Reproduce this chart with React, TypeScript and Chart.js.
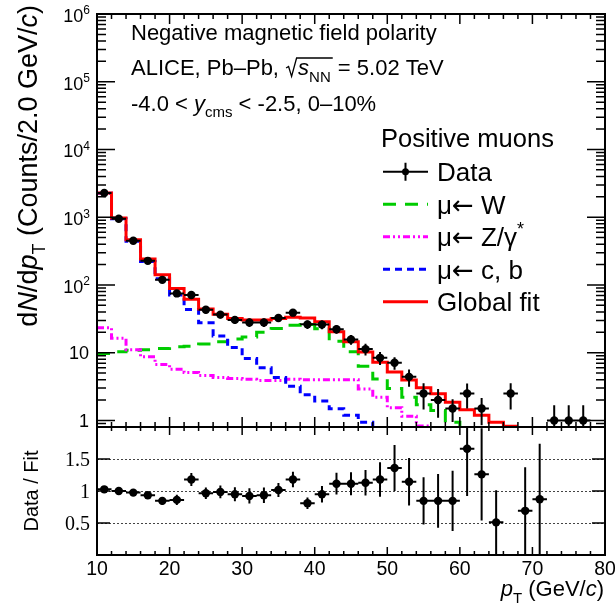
import React, { useEffect, useRef } from "react";
import { Chart, registerables } from "chart.js";

Chart.register(...registerables);

const SANS = '"Liberation Sans", Arial, Helvetica, sans-serif';
const SERIF = '"Liberation Serif", "Times New Roman", serif';
const ARROW_FONT = '"DejaVu Sans", "Liberation Sans", sans-serif';

// pT binning in GeV/c: 2 GeV/c wide bins from 10 to 80
const binCenters = [11, 13, 15, 17, 19, 21, 23, 25, 27, 29, 31, 33, 35, 37, 39, 41, 43, 45, 47, 49, 51, 53, 55, 57, 59, 61, 63, 65, 67, 69, 71, 73, 75, 77, 79];
const binHalfWidth = 1;

// measured counts per bin (null: nothing drawn in the upper panel)
const dataCounts = [2280, 950, 450, 227, 119, 75, 71, 43, 36.5, 30.5, 28, 28, 32.5, 39, 26.2, 26, 22.2, 15.7, 11.3, 8.4, 7.1, 4.4, 2.5, 2.0, 1.5, 2.5, 1.5, null, 2.5, null, null, 1, 1, 1, null];
const dataErrors = [45, 28, 19, 13, 9, 7, 7, 5, 4.5, 4, 4, 4, 4, 4.5, 3.8, 3.8, 3.2, 2.6, 2.2, 1.8, 1.5, 1.25, 1.05, 0.9, 0.55, 1.0, 0.65, null, 1.05, null, null, 0.67, 0.67, 0.67, null];

// fit templates, one value per bin starting at the first bin
const templW = [9.7, 10.3, 10.9, 11.1, 11.5, 12.2, 12.5, 13.4, 14.5, 15.9, 17.1, 20.1, 22.8, 25.5, 26, 22.5, 14.8, 10.3, 6.3, 4.1, 2.95, 2.2, 1.7, 1.4, 0.94, 0.75];
const templZ = [23.3, 16.3, 11.1, 8.7, 6.7, 5.7, 5.1, 4.6, 4.3, 4.15, 4.05, 3.9, 3.9, 4.05, 4.0, 4.0, 4.0, 4.0, 2.9, 2.2, 1.54, 1.15, 0.83, 0.6];
const templCB = [2250, 950, 443, 222, 124, 71, 43.6, 27.6, 17.6, 11.9, 8.2, 6.0, 4.3, 3.19, 2.4, 1.93, 1.49, 1.19, 0.94, 0.75];
const globalFit = [2283, 977, 465, 242, 142, 89, 61.5, 44, 36.8, 32.1, 30.3, 30.3, 32.1, 33.3, 32.5, 28.6, 20.3, 14.5, 10.2, 7.2, 5.2, 3.95, 3.05, 2.48, 1.85, 1.44, 1.19, 0.94, 0.82];

// data / fit ratio per bin
const ratioValues = [1.026, 1.0, 0.975, 0.933, 0.846, 0.861, 1.18, 0.964, 0.985, 0.949, 0.923, 0.933, 1.015, 1.18, 0.81, 0.949, 1.114, 1.114, 1.13, 1.18, 1.36, 1.145, 0.846, 0.846, 0.846, 1.66, 1.26, 0.51, null, 0.69, 0.87, null, null, null, null];
const ratioErrors = [0.02, 0.03, 0.04, 0.05, 0.06, 0.08, 0.1, 0.09, 0.1, 0.11, 0.12, 0.12, 0.11, 0.12, 0.09, 0.13, 0.17, 0.18, 0.2, 0.27, 0.36, 0.37, 0.37, 0.42, 0.47, 0.74, 0.72, 0.5, null, 0.68, 0.87, null, null, null, null];

// axes
const xRange = [10, 80];
const xTickValues = [10, 20, 30, 40, 50, 60, 70, 80];
const xTickLabels = ["10", "20", "30", "40", "50", "60", "70", "80"];
const countRange = [0.8, 1e6];
const countDecades = [0, 1, 2, 3, 4, 5, 6];
const ratioRange = [0, 2];
const ratioTicks = [0.5, 1, 1.5];
const ratioTickLabels = ["0.5", "1", "1.5"];

const CW = 615;
const CH = 609;
const PLOT_L = 97;
const PLOT_R = 605;
const UP_TOP = 14;
const SPLIT = 427;
const LOW_BOTTOM = 555;

const STYLES = {
  W: { color: "#00cc00", dash: [13, 9] },
  Z: { color: "#ff00ff", dash: [7, 3, 2, 3, 2, 3] },
  CB: { color: "#0000ff", dash: [7, 5] },
  FIT: { color: "#ff0000", dash: [] as number[] },
};

type Run = { t: string; it?: boolean; sub?: boolean; sup?: boolean; fam?: string };

function runFont(r: Run, size: number, family = SANS) {
  const s = r.sub || r.sup ? Math.round(size * 0.68) : size;
  return `${r.it ? "italic " : ""}${s}px ${r.fam ?? family}`;
}

function measureRuns(ctx: CanvasRenderingContext2D, runs: Run[], size: number, family = SANS) {
  let w = 0;
  for (const r of runs) {
    ctx.font = runFont(r, size, family);
    w += ctx.measureText(r.t).width;
  }
  return w;
}

function drawRuns(
  ctx: CanvasRenderingContext2D,
  x: number,
  y: number,
  runs: Run[],
  size: number,
  align: "left" | "center" | "right" = "left",
  family = SANS
) {
  const w = measureRuns(ctx, runs, size, family);
  let cx = align === "left" ? x : align === "center" ? x - w / 2 : x - w;
  ctx.textAlign = "left";
  ctx.textBaseline = "alphabetic";
  ctx.fillStyle = "#000";
  for (const r of runs) {
    ctx.font = runFont(r, size, family);
    const dy = r.sub ? size * 0.3 : r.sup ? -size * 0.42 : 0;
    ctx.fillText(r.t, cx, y + dy);
    cx += ctx.measureText(r.t).width;
  }
  return cx;
}

function histSteps(values: number[]) {
  const pts = values.map((v, i) => ({ x: binCenters[i] - binHalfWidth, y: v }));
  pts.push({ x: binCenters[values.length - 1] + binHalfWidth, y: values[values.length - 1] });
  return pts;
}

function pointsOf(values: (number | null)[]) {
  const pts: { x: number; y: number }[] = [];
  values.forEach((v, i) => {
    if (v != null) pts.push({ x: binCenters[i], y: v });
  });
  return pts;
}

function drawErrorBars(chart: any, values: (number | null)[], errors: (number | null)[]) {
  const { ctx, chartArea: a, scales } = chart;
  const x = scales.x;
  const y = scales.y;
  const isLog = y.type === "logarithmic";
  ctx.save();
  ctx.beginPath();
  ctx.rect(a.left, a.top, a.right - a.left, a.bottom - a.top);
  ctx.clip();
  ctx.strokeStyle = "#000";
  ctx.lineWidth = 2;
  ctx.setLineDash([]);
  ctx.beginPath();
  values.forEach((v, i) => {
    if (v == null) return;
    const e = errors[i] ?? 0;
    const cx = x.getPixelForValue(binCenters[i]);
    const cy = y.getPixelForValue(v);
    const yHi = y.getPixelForValue(v + e);
    const lo = v - e;
    const yLo = isLog && lo <= 0 ? a.bottom + 5 : y.getPixelForValue(lo);
    ctx.moveTo(x.getPixelForValue(binCenters[i] - binHalfWidth), cy);
    ctx.lineTo(x.getPixelForValue(binCenters[i] + binHalfWidth), cy);
    ctx.moveTo(cx, yHi);
    ctx.lineTo(cx, yLo);
  });
  ctx.stroke();
  ctx.restore();
}

function drawXTicks(chart: any, topLen: [number, number], bottomLen: [number, number]) {
  const { ctx, chartArea: a, scales } = chart;
  const x = scales.x;
  ctx.beginPath();
  for (let v = xRange[0]; v <= xRange[1]; v += 2) {
    const major = v % 10 === 0;
    const px = x.getPixelForValue(v);
    const bl = major ? bottomLen[0] : bottomLen[1];
    const tl = major ? topLen[0] : topLen[1];
    ctx.moveTo(px, a.bottom);
    ctx.lineTo(px, a.bottom - bl);
    ctx.moveTo(px, a.top);
    ctx.lineTo(px, a.top + tl);
  }
  ctx.stroke();
}

function drawFrame(chart: any) {
  const { ctx, chartArea: a } = chart;
  ctx.strokeStyle = "#000";
  ctx.lineWidth = 2;
  ctx.setLineDash([]);
  ctx.strokeRect(a.left, a.top, a.right - a.left, a.bottom - a.top);
}

const ARROW: Run = { t: "\u2190", fam: ARROW_FONT };

const legendEntries: { runs: Run[]; style?: { color: string; dash: number[] } }[] = [
  { runs: [{ t: "Data" }] },
  { runs: [{ t: "\u03bc" }, ARROW, { t: " W" }], style: STYLES.W },
  { runs: [{ t: "\u03bc" }, ARROW, { t: " Z/\u03b3" }, { t: "*", sup: true }], style: STYLES.Z },
  { runs: [{ t: "\u03bc" }, ARROW, { t: " c, b" }], style: STYLES.CB },
  { runs: [{ t: "Global fit" }], style: STYLES.FIT },
];

const upperDecor = {
  id: "upperDecor",
  afterDatasetsDraw(chart: any) {
    drawErrorBars(chart, dataCounts, dataErrors);
  },
  afterDraw(chart: any) {
    const { ctx, chartArea: a, scales } = chart;
    const y = scales.y;
    ctx.save();
    drawFrame(chart);
    ctx.lineWidth = 1.5;
    drawXTicks(chart, [10, 5], [10, 5]);

    // logarithmic ticks on both vertical sides
    ctx.beginPath();
    for (let d = -1; d <= 6; d++) {
      for (let k = 1; k <= 9; k++) {
        const v = k * Math.pow(10, d);
        if (v < countRange[0] - 1e-9 || v > countRange[1] + 1e-9) continue;
        const py = y.getPixelForValue(v);
        const len = k === 1 ? 18 : 9;
        ctx.moveTo(a.left, py);
        ctx.lineTo(a.left + len, py);
        ctx.moveTo(a.right, py);
        ctx.lineTo(a.right - len, py);
      }
    }
    ctx.stroke();

    // decade labels
    for (const d of countDecades) {
      const py = y.getPixelForValue(Math.pow(10, d));
      if (d === 0) drawRuns(ctx, 89, py + 6.5, [{ t: "1" }], 18, "right");
      else if (d === 1) drawRuns(ctx, 89, py + 6.5, [{ t: "10" }], 18, "right");
      else drawRuns(ctx, 90, py + 8, [{ t: "10" }, { t: String(d), sup: true }], 18, "right");
    }

    // vertical axis title
    ctx.save();
    ctx.translate(37, 5);
    ctx.rotate(-Math.PI / 2);
    drawRuns(
      ctx,
      0,
      0,
      [
        { t: "d" },
        { t: "N", it: true },
        { t: "/d" },
        { t: "p", it: true },
        { t: "T", sub: true },
        { t: " (Counts/2.0 GeV/" },
        { t: "c", it: true },
        { t: ")" },
      ],
      27,
      "right"
    );
    ctx.restore();

    // annotation block
    const tx = 131;
    const fs = 22;
    drawRuns(ctx, tx, 39.5, [{ t: "Negative magnetic field polarity" }], fs);
    const b2 = 75;
    let cx = drawRuns(ctx, tx, b2, [{ t: "ALICE, Pb\u2013Pb, " }], fs);
    const rx = cx + 1;
    cx = drawRuns(ctx, rx + 12, b2, [{ t: "s", it: true }, { t: "NN", sub: true }], fs);
    ctx.strokeStyle = "#000";
    ctx.lineWidth = 1.3;
    ctx.beginPath();
    ctx.moveTo(rx, b2 - 7);
    ctx.lineTo(rx + 2.5, b2 - 8.5);
    ctx.lineTo(rx + 5.5, b2 + 1.5);
    ctx.lineTo(rx + 10.5, b2 - 17);
    ctx.lineTo(cx + 2, b2 - 17);
    ctx.stroke();
    drawRuns(ctx, cx + 1, b2, [{ t: " = 5.02 TeV" }], fs);
    drawRuns(
      ctx,
      tx,
      110.5,
      [{ t: "-4.0 < " }, { t: "y", it: true }, { t: "cms", sub: true }, { t: " < -2.5, 0\u201310%" }],
      fs
    );

    // legend
    drawRuns(ctx, 381, 146.5, [{ t: "Positive muons" }], 25.5);
    legendEntries.forEach((e, i) => {
      const ly = 171.7 + 32.5 * i;
      ctx.save();
      if (e.style) {
        ctx.strokeStyle = e.style.color;
        ctx.setLineDash(e.style.dash);
        ctx.lineWidth = 3;
        ctx.beginPath();
        ctx.moveTo(383, ly);
        ctx.lineTo(428, ly);
        ctx.stroke();
      } else {
        ctx.strokeStyle = "#000";
        ctx.lineWidth = 2;
        ctx.beginPath();
        ctx.moveTo(383, ly);
        ctx.lineTo(428, ly);
        ctx.moveTo(405.5, ly - 9);
        ctx.lineTo(405.5, ly + 9);
        ctx.stroke();
        ctx.fillStyle = "#000";
        ctx.beginPath();
        ctx.arc(405.5, ly, 3.5, 0, Math.PI * 2);
        ctx.fill();
      }
      ctx.restore();
      drawRuns(ctx, 437, ly + 9.3, e.runs, 26);
    });
    ctx.restore();
  },
};

const lowerDecor = {
  id: "lowerDecor",
  beforeDatasetsDraw(chart: any) {
    const { ctx, chartArea: a, scales } = chart;
    const y = scales.y;
    ctx.save();
    ctx.strokeStyle = "#444";
    ctx.lineWidth = 1;
    ctx.setLineDash([2, 2]);
    ctx.beginPath();
    for (const v of ratioTicks) {
      const py = Math.round(y.getPixelForValue(v)) + 0.5;
      ctx.moveTo(a.left, py);
      ctx.lineTo(a.right, py);
    }
    ctx.stroke();
    ctx.restore();
  },
  afterDatasetsDraw(chart: any) {
    drawErrorBars(chart, ratioValues, ratioErrors);
  },
  afterDraw(chart: any) {
    const { ctx, chartArea: a, scales } = chart;
    const x = scales.x;
    const y = scales.y;
    ctx.save();
    drawFrame(chart);
    ctx.lineWidth = 1.5;
    drawXTicks(chart, [8, 4], [8, 4]);
    ctx.beginPath();
    for (const v of ratioTicks) {
      const py = y.getPixelForValue(v);
      ctx.moveTo(a.left, py);
      ctx.lineTo(a.left + 13, py);
      ctx.moveTo(a.right, py);
      ctx.lineTo(a.right - 13, py);
    }
    ctx.stroke();

    ratioTicks.forEach((v, i) => {
      drawRuns(ctx, 90, y.getPixelForValue(v) + 6.5, [{ t: ratioTickLabels[i] }], 20, "right", SERIF);
    });
    xTickValues.forEach((v, i) => {
      drawRuns(ctx, x.getPixelForValue(v), 575, [{ t: xTickLabels[i] }], 19.5, "center");
    });

    drawRuns(
      ctx,
      604,
      596,
      [{ t: "p", it: true }, { t: "T", sub: true }, { t: " (GeV/" }, { t: "c", it: true }, { t: ")" }],
      22,
      "right"
    );

    ctx.save();
    ctx.translate(38, 491);
    ctx.rotate(-Math.PI / 2);
    drawRuns(ctx, 0, 0, [{ t: "Data / Fit" }], 20, "center");
    ctx.restore();
    ctx.restore();
  },
};

function stepDataset(label: string, values: number[], style: { color: string; dash: number[] }, order: number) {
  return {
    label,
    data: histSteps(values),
    stepped: "before" as const,
    borderColor: style.color,
    borderDash: style.dash,
    borderWidth: 3,
    borderJoinStyle: "miter" as const,
    borderCapStyle: "butt" as const,
    pointRadius: 0,
    fill: false,
    order,
  };
}

function upperConfig(): any {
  return {
    type: "line",
    data: {
      datasets: [
        {
          label: "Data",
          type: "scatter",
          data: pointsOf(dataCounts),
          showLine: false,
          pointRadius: 4.2,
          pointBorderWidth: 0,
          pointBackgroundColor: "#000",
          order: 0,
        },
        stepDataset("Global fit", globalFit, STYLES.FIT, 1),
        stepDataset("\u03bc\u2190 c, b", templCB, STYLES.CB, 2),
        stepDataset("\u03bc\u2190 Z/\u03b3*", templZ, STYLES.Z, 3),
        stepDataset("\u03bc\u2190 W", templW, STYLES.W, 4),
      ],
    },
    options: {
      animation: false,
      responsive: false,
      devicePixelRatio: 1,
      events: [],
      layout: { padding: { left: PLOT_L, right: CW - PLOT_R, top: UP_TOP, bottom: CH - SPLIT } },
      scales: {
        x: { type: "linear", min: xRange[0], max: xRange[1], display: false },
        y: { type: "logarithmic", min: countRange[0], max: countRange[1], display: false },
      },
      plugins: { legend: { display: false }, tooltip: { enabled: false } },
    },
    plugins: [upperDecor],
  };
}

function lowerConfig(): any {
  return {
    type: "scatter",
    data: {
      datasets: [
        {
          label: "Data / Fit",
          data: pointsOf(ratioValues),
          pointRadius: 4.2,
          pointBorderWidth: 0,
          pointBackgroundColor: "#000",
        },
      ],
    },
    options: {
      animation: false,
      responsive: false,
      devicePixelRatio: 1,
      events: [],
      layout: { padding: { left: PLOT_L, right: CW - PLOT_R, top: SPLIT, bottom: CH - LOW_BOTTOM } },
      scales: {
        x: { type: "linear", min: xRange[0], max: xRange[1], display: false },
        y: { type: "linear", min: ratioRange[0], max: ratioRange[1], display: false },
      },
      plugins: { legend: { display: false }, tooltip: { enabled: false } },
    },
    plugins: [lowerDecor],
  };
}

export default function App() {
  const upRef = useRef<HTMLCanvasElement>(null);
  const lowRef = useRef<HTMLCanvasElement>(null);

  useEffect(() => {
    const up = new Chart(upRef.current!, upperConfig());
    const low = new Chart(lowRef.current!, lowerConfig());
    return () => {
      up.destroy();
      low.destroy();
    };
  }, []);

  const canvasStyle: React.CSSProperties = { position: "absolute", left: 0, top: 0, width: CW, height: CH };
  return (
    <div style={{ position: "fixed", left: 0, top: 0, width: CW, height: CH, background: "#fff" }}>
      <canvas ref={upRef} width={CW} height={CH} style={canvasStyle} />
      <canvas ref={lowRef} width={CW} height={CH} style={canvasStyle} />
    </div>
  );
}
